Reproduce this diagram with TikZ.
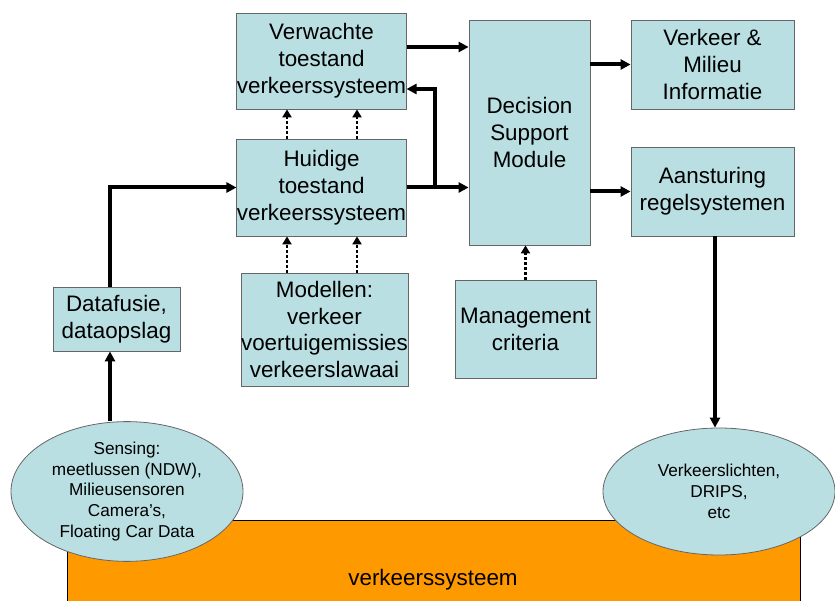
\documentclass[tikz,border=0pt]{standalone}
\usepackage{fontspec}
\setmainfont{Liberation Sans}
\usepackage{xcolor}
\usetikzlibrary{arrows.meta,shapes.geometric}
\definecolor{boxblue}{HTML}{B9DFE2}
\definecolor{sysorange}{HTML}{FF9900}
\begin{document}
\begin{tikzpicture}[x=1pt,y=-1pt,
  blok/.style={draw=black!60, line width=0.8pt, fill=boxblue, rectangle, inner sep=0pt,
    align=center, font=\fontsize{22.4}{26.9}\selectfont},
  ovaal/.style={draw=black!60, line width=0.8pt, fill=boxblue, ellipse, inner sep=0pt,
    align=center, minimum width=232pt, minimum height=127pt,
    font=\fontsize{17.2}{20.7}\selectfont},
  flow/.style={line width=4pt, -{Triangle[length=10pt,width=10pt]}},
  dotflow/.style={line width=2.6pt, dash pattern=on 2.5pt off 2.5pt,
    -{Triangle[length=8pt,width=9pt]}}]
\useasboundingbox (0,0) rectangle (835,601);
% het verkeerssysteem
\filldraw[fill=sysorange, draw=black, line width=0.8pt] (67,520) rectangle (800,610);
\node (sys) at (433,580) {\fontsize{22.4}{26.9}\selectfont verkeerssysteem};
% blokken
\node[blok, minimum width=169pt, minimum height=96pt] (verw) at (321.5,61)
  {Verwachte\\toestand\\verkeerssysteem};
\node[blok, minimum width=169pt, minimum height=97pt] (huid) at (321.5,187.5)
  {Huidige\\toestand\\verkeerssysteem};
\node[blok, minimum width=163pt, minimum height=113pt] (mod) at (324.5,329.5)
  {Modellen:\\verkeer\\voertuigemissies\\verkeerslawaai};
\node[blok, minimum width=127pt, minimum height=64pt] (dataf) at (116.5,319)
  {Datafusie,\\dataopslag};
\node[blok, minimum width=121pt, minimum height=225pt] (dsm) at (529.5,132.5)
  {Decision\\Support\\Module};
\node[blok, minimum width=163pt, minimum height=89pt] (vmi) at (712.5,64.5)
  {Verkeer \&\\Milieu\\Informatie};
\node[blok, minimum width=163pt, minimum height=89pt] (aans) at (712.5,191.5)
  {Aansturing\\regelsystemen};
\node[blok, minimum width=141pt, minimum height=98pt] (mgmt) at (525.5,329)
  {Management\\criteria};
% sensoren en actuatoren
\node[ovaal] (sens) at (127,491.5)
  {Sensing:\\meetlussen (NDW),\\Milieusensoren\\Camera’s,\\Floating Car Data};
\node[ovaal] (vkl) at (719,491.5) {Verkeerslichten,\\DRIPS,\\etc};
% verbindingen
\coordinate (dn) at ([xshift=-6.5pt]dataf.north);
\coordinate (ds) at ([xshift=-6.5pt]dataf.south);
\draw[flow] (ds |- sens.north) -- (ds);
\draw[flow] (dn) |- (huid.west);
\draw[flow] ([yshift=14pt]verw.east) coordinate (v1) -- (v1 -| dsm.west);
\draw[flow] (huid.east) -- (huid.east -| dsm.west);
\coordinate (br) at ([xshift=28pt]huid.east);
\draw[flow] (br) |- ([yshift=-28pt]verw.east);
\draw[flow] (vmi.west -| dsm.east) -- (vmi.west);
\draw[flow] (aans.west -| dsm.east) -- (aans.west);
\coordinate (as) at ([xshift=2.5pt]aans.south);
\draw[flow] (as) -- (as |- vkl.north);
\foreach \dx in {-34.5,35.5} {
  \draw[dotflow] ([xshift=\dx pt]huid.north) -- ([xshift=\dx pt]verw.south);
  \draw[dotflow] ([xshift=\dx pt]huid.south |- mod.north) -- ([xshift=\dx pt]huid.south);
}
\draw[dotflow] (mgmt.north) -- (mgmt.north |- dsm.south);
\end{tikzpicture}
\end{document}
